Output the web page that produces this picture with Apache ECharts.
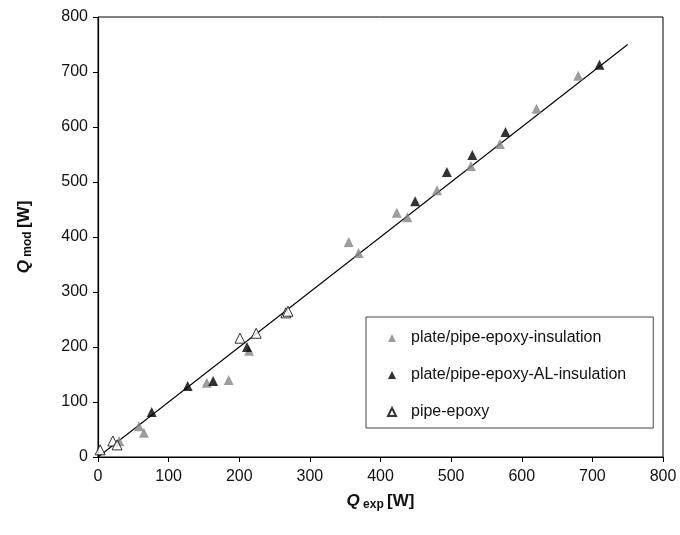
<!DOCTYPE html>
<html lang="en">
<head>
    <meta charset="utf-8">
    <title>Q mod vs Q exp</title>
    <script src="https://cdn.jsdelivr.net/npm/echarts@6/dist/echarts.min.js"></script>
    <style>
        html, body { margin: 0; padding: 0; background: #fff; }
        #chart { width: 680px; height: 535px; }
    </style>
</head>
<body>
    <div id="chart"></div>
    <script>
        // series names
        const seriesNames = ['plate/pipe-epoxy-insulation', 'plate/pipe-epoxy-AL-insulation', 'pipe-epoxy'];

        // [Q_exp, Q_mod] pairs
        const epoxyInsulation = [
            [30, 29], [58, 56], [65, 44], [154, 135], [185, 140], [214, 193],
            [355, 391], [369, 371], [423, 444], [438, 436], [480, 485],
            [528, 529], [569, 569], [621, 633], [680, 693]
        ];
        const epoxyAlInsulation = [
            [76, 82], [127, 129], [163, 138], [211, 200], [449, 465],
            [494, 518], [530, 549], [577, 591], [710, 713]
        ];
        const pipeEpoxy = [
            [3, 13], [21, 29], [27, 22], [201, 216], [224, 225], [266, 262], [269, 265]
        ];
        const parityLine = [[0, 0], [750, 750]];

        const xTicks = { min: 0, max: 800, interval: 100 };
        const yTicks = { min: 0, max: 800, interval: 100 };

        const chart = echarts.init(document.getElementById('chart'));
        const font = 'Liberation Sans, Arial, sans-serif';

        const axisCommon = {
            axisLine: { show: true, onZero: false, lineStyle: { color: '#000', width: 1.2 } },
            axisTick: { show: true, length: 5, lineStyle: { color: '#000' } },
            splitLine: { show: false },
            axisLabel: { color: '#111', fontSize: 16, fontFamily: font },
            nameLocation: 'middle'
        };

        const nameRich = {
            q: { fontSize: 17, fontWeight: 'bold', fontStyle: 'italic', fontFamily: font, color: '#111' },
            sub: { fontSize: 12, fontWeight: 'bold', fontFamily: font, color: '#111', padding: [8, 0, 0, 0] },
            w: { fontSize: 17, fontWeight: 'bold', fontFamily: font, color: '#111' }
        };

        chart.setOption({
            animation: false,
            grid: {
                left: 98, right: 17, top: 17, bottom: 78,
                show: true, borderColor: '#000', borderWidth: 1
            },
            legend: {
                data: seriesNames.map(function(n) { return { name: n, icon: 'triangle' }; }),
                orient: 'vertical',
                left: 366, top: 317,
                padding: [13, 27, 8, 21],
                itemWidth: 8, itemHeight: 8,
                itemGap: 21,
                borderColor: '#444', borderWidth: 1,
                textStyle: { fontSize: 16, fontFamily: font, color: '#111', padding: [0, 0, 0, 10] }
            },
            xAxis: Object.assign({}, axisCommon, {
                type: 'value',
                min: xTicks.min, max: xTicks.max, interval: xTicks.interval,
                axisLabel: Object.assign({}, axisCommon.axisLabel, { margin: 12 }),
                name: '{q|Q}{sub| exp} {w|[W]}',
                nameGap: 34,
                nameTextStyle: { rich: nameRich }
            }),
            yAxis: Object.assign({}, axisCommon, {
                type: 'value',
                min: yTicks.min, max: yTicks.max, interval: yTicks.interval,
                axisLabel: Object.assign({}, axisCommon.axisLabel, { margin: 10 }),
                name: '{q|Q}{sub| mod} {w|[W]}',
                nameGap: 64,
                nameRotate: 90,
                nameTextStyle: { rich: nameRich }
            }),
            series: [
                {
                    name: 'fit',
                    type: 'line',
                    data: parityLine,
                    showSymbol: false,
                    lineStyle: { color: '#000', width: 1.1 },
                    z: 1
                },
                {
                    name: seriesNames[0],
                    type: 'scatter',
                    data: epoxyInsulation,
                    symbol: 'triangle',
                    symbolSize: 10,
                    itemStyle: { color: '#858585' },
                    z: 3
                },
                {
                    name: seriesNames[1],
                    type: 'scatter',
                    data: epoxyAlInsulation,
                    symbol: 'triangle',
                    symbolSize: 10,
                    itemStyle: { color: '#000' },
                    z: 3
                },
                {
                    name: seriesNames[2],
                    type: 'scatter',
                    data: pipeEpoxy,
                    symbol: 'triangle',
                    symbolSize: 10,
                    itemStyle: { color: '#fff', borderColor: '#000', borderWidth: 1 },
                    z: 3
                }
            ]
        });

        window.addEventListener('resize', function() {
            chart.resize();
        });
    </script>
</body>
</html>
